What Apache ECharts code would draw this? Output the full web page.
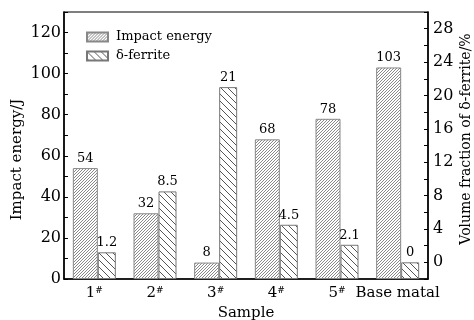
<!DOCTYPE html>
<html>
<head>
<meta charset="utf-8">
<script src="https://cdn.jsdelivr.net/npm/echarts@6/dist/echarts.min.js"></script>
<style>
  html, body { margin: 0; padding: 0; background: #fff; }
  #chart { width: 474px; height: 320px; }
</style>
</head>
<body>
<div id="chart"></div>
<script>
// 样本与数值
const samples = ['1', '2', '3', '4', '5', 'Base matal']
const impactEnergy = [54, 32, 8, 68, 78, 103]
const ferrite = [1.2, 8.5, 21, 4.5, 2.1, 0]
const ferriteAxisMin = -2

const FONT = 'DejaVu Serif'

/** 斜线填充图案 */
function makeHatch(size, spacing, dir, color, lw) {
  const c = document.createElement('canvas')
  c.width = size
  c.height = size
  const ctx = c.getContext('2d')
  ctx.fillStyle = '#fff'
  ctx.fillRect(0, 0, size, size)
  ctx.strokeStyle = color
  ctx.lineWidth = lw
  ctx.beginPath()
  for (let o = -size; o <= size * 2; o += spacing) {
    if (dir === '/') {
      ctx.moveTo(o, size)
      ctx.lineTo(o + size, 0)
    } else {
      ctx.moveTo(o, 0)
      ctx.lineTo(o + size, size)
    }
  }
  ctx.stroke()
  return c
}

const impactFill = { image: makeHatch(6, 3, '/', '#7a7a7a', 0.9), repeat: 'repeat' }
const ferriteFill = { image: makeHatch(7, 7, '\\', '#555', 1), repeat: 'repeat' }

const chart = echarts.init(document.getElementById('chart'))

chart.setOption({
  animation: false,
  textStyle: { fontFamily: FONT, color: '#000' },
  grid: {
    left: 64, right: 46, top: 12, bottom: 41,
    outerBoundsMode: 'none',
    containLabel: false,
    show: true, borderColor: '#000', borderWidth: 1.2
  },
  legend: {
    orient: 'vertical',
    left: 81, top: 24,
    icon: 'rect',
    itemWidth: 21, itemHeight: 9, itemGap: 3,
    textStyle: { fontFamily: FONT, fontSize: 13, color: '#000', lineHeight: 16, padding: [0, 0, 0, 3] },
    data: ['Impact energy', 'δ-ferrite']
  },
  xAxis: {
    type: 'category',
    data: samples,
    name: 'Sample',
    nameLocation: 'middle',
    nameGap: 27,
    nameTextStyle: { fontFamily: FONT, fontSize: 15, color: '#000' },
    axisLine: { lineStyle: { color: '#000', width: 1.5 } },
    axisTick: { show: false },
    axisLabel: {
      interval: 0,
      margin: 7,
      formatter: v => v === 'Base matal' ? '{a|' + v + '}' : '{a|' + v + '}{s|#}',
      rich: {
        a: { fontFamily: FONT, fontSize: 15, color: '#000' },
        s: { fontFamily: FONT, fontSize: 9, color: '#000', verticalAlign: 'top', padding: [0, 0, 6, 0] }
      }
    }
  },
  yAxis: [
    {
      type: 'value',
      min: 0, max: 130, interval: 10,
      name: 'Impact energy/J',
      nameLocation: 'middle',
      nameGap: 39,
      nameRotate: 90,
      nameMoveOverlap: false,
      nameTextStyle: { fontFamily: FONT, fontSize: 15, color: '#000', padding: [0, 28, 0, 0] },
      axisLine: { show: true, lineStyle: { color: '#000', width: 1.5 } },
      axisTick: { show: true, inside: true, length: 4, lineStyle: { color: '#000' } },
      axisLabel: {
        fontFamily: FONT, fontSize: 16, color: '#000', margin: 3,
        formatter: v => (v % 20 === 0 && v <= 120) ? String(v) : ''
      },
      splitLine: { show: false }
    },
    {
      // 右轴整体平移 2，使柱子从轴底部（-2）开始
      type: 'value',
      position: 'right',
      min: 0, max: 32, interval: 2,
      name: 'Volume fraction of δ-ferrite/%',
      nameLocation: 'middle',
      nameGap: 31,
      nameRotate: 90,
      nameMoveOverlap: false,
      nameTextStyle: { fontFamily: FONT, fontSize: 14, color: '#000', padding: [0, 0, 0, 13] },
      axisLine: { show: true, lineStyle: { color: '#000', width: 1.5 } },
      axisTick: { show: true, inside: true, length: 4, lineStyle: { color: '#000' } },
      axisLabel: {
        fontFamily: FONT, fontSize: 16, color: '#000', margin: 5,
        formatter: v => {
          const t = v + ferriteAxisMin
          return (t >= 0 && t <= 28 && t % 4 === 0) ? String(t) : ''
        }
      },
      splitLine: { show: false }
    }
  ],
  series: [
    {
      name: 'Impact energy',
      type: 'bar',
      yAxisIndex: 0,
      barWidth: 25,
      barGap: '0%',
      data: impactEnergy,
      itemStyle: { color: impactFill, borderColor: '#888', borderWidth: 1 },
      label: {
        show: true, position: 'top', distance: 3,
        fontFamily: FONT, fontSize: 13, color: '#000'
      }
    },
    {
      name: 'δ-ferrite',
      type: 'bar',
      yAxisIndex: 1,
      barWidth: 18,
      data: ferrite.map(v => v - ferriteAxisMin),
      itemStyle: { color: ferriteFill, borderColor: '#777', borderWidth: 1 },
      label: {
        show: true, position: 'top', distance: 3,
        fontFamily: FONT, fontSize: 13, color: '#000',
        formatter: p => String(ferrite[p.dataIndex])
      }
    }
  ]
})
</script>
</body>
</html>
